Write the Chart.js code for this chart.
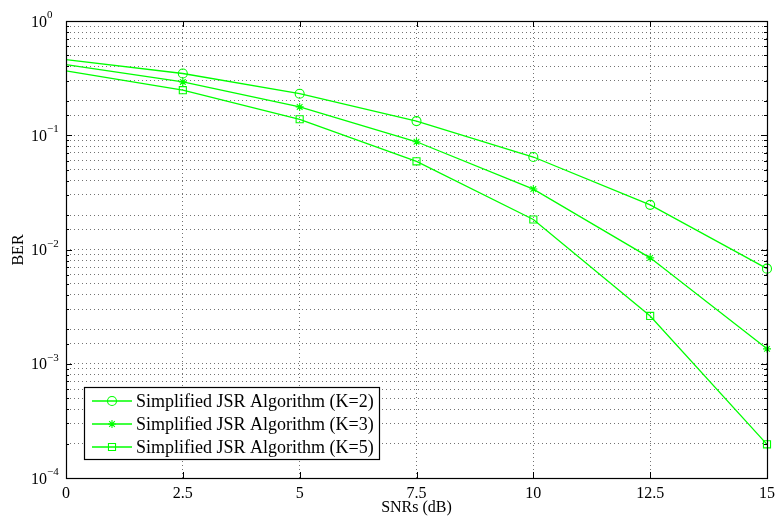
<!DOCTYPE html>
<html>
<head>
<meta charset="utf-8">
<script src="https://cdn.jsdelivr.net/npm/chart.js@4.4.0/dist/chart.umd.min.js"></script>
<style>
html,body{margin:0;padding:0;background:#fff;}
canvas{display:block;}
</style>
</head>
<body>
<canvas id="c" width="779" height="527"></canvas>
<script>
const snr = [0, 2.5, 5, 7.5, 10, 12.5, 15];
const berK2 = [0.46, 0.347, 0.231, 0.133, 0.0645, 0.0246, 0.0068];
const berK3 = [0.416, 0.293, 0.177, 0.0877, 0.0338, 0.00845, 0.00135];
const berK5 = [0.366, 0.248, 0.138, 0.0591, 0.0183, 0.00262, 0.000197];
const seriesNames = ['Simplified JSR Algorithm (K=2)', 'Simplified JSR Algorithm (K=3)', 'Simplified JSR Algorithm (K=5)'];
const xTickLabels = ['0', '2.5', '5', '7.5', '10', '12.5', '15'];
const yExponents = ['0', '\u22121', '\u22122', '\u22123', '\u22124'];
const xTitle = 'SNRs (dB)';
const yTitle = 'BER';

const GREEN = '#00ff00';
const SERIF = '"Liberation Serif", "Times New Roman", serif';
const styles = ['circle', 'star', 'rect'];
const radii = [4.5, 4, 5];

function mk(i, vals) {
  return {
    label: seriesNames[i],
    data: snr.map((x, j) => ({x: x, y: vals[j]})),
    borderColor: GREEN,
    backgroundColor: GREEN,
    borderWidth: 1.3,
    pointStyle: styles[i],
    pointRadius: snr.map((x, j) => j === 0 ? 0 : radii[i]),
    pointBorderColor: GREEN,
    pointBackgroundColor: 'rgba(0,0,0,0)',
    pointBorderWidth: 1.1,
    tension: 0,
    clip: false
  };
}

function drawMarker(ctx, style, x, y, r) {
  ctx.save();
  ctx.strokeStyle = GREEN;
  ctx.lineWidth = 1.1;
  ctx.beginPath();
  if (style === 'circle') {
    ctx.arc(x, y, r, 0, Math.PI * 2);
  } else if (style === 'rect') {
    const s = Math.SQRT1_2 * r;
    ctx.rect(x - s, y - s, 2 * s, 2 * s);
  } else {
    ctx.moveTo(x - r, y); ctx.lineTo(x + r, y);
    ctx.moveTo(x, y - r); ctx.lineTo(x, y + r);
    const d = r * Math.SQRT1_2;
    ctx.moveTo(x - d, y - d); ctx.lineTo(x + d, y + d);
    ctx.moveTo(x - d, y + d); ctx.lineTo(x + d, y - d);
  }
  ctx.stroke();
  ctx.restore();
}

const matlab = {
  id: 'matlab',
  afterDatasetsDraw(chart) {
    const ctx = chart.ctx;
    const a = chart.chartArea;
    const xs = chart.scales.x, ys = chart.scales.y;
    ctx.save();
    // inner ticks
    ctx.strokeStyle = '#000';
    ctx.lineWidth = 1;
    ctx.beginPath();
    xs.ticks.forEach(t => {
      const px = Math.round(xs.getPixelForValue(t.value)) + 0.5;
      ctx.moveTo(px, a.bottom); ctx.lineTo(px, a.bottom - 6);
      ctx.moveTo(px, a.top); ctx.lineTo(px, a.top + 6);
    });
    ys.ticks.forEach(t => {
      const v = t.value;
      const lg = Math.log10(v);
      const major = Math.abs(lg - Math.round(lg)) < 1e-9;
      const len = major ? 6 : 3;
      const py = Math.round(ys.getPixelForValue(v)) + 0.5;
      ctx.moveTo(a.left, py); ctx.lineTo(a.left + len, py);
      ctx.moveTo(a.right, py); ctx.lineTo(a.right - len, py);
    });
    ctx.stroke();
    // box
    ctx.lineWidth = 1.2;
    ctx.strokeRect(Math.round(a.left) + 0.5, Math.round(a.top) + 0.5, Math.round(a.right - a.left), Math.round(a.bottom - a.top));

    // x tick labels
    ctx.fillStyle = '#000';
    ctx.font = '16px ' + SERIF;
    ctx.textAlign = 'center';
    ctx.textBaseline = 'alphabetic';
    snr.forEach((v, i) => {
      ctx.fillText(xTickLabels[i], xs.getPixelForValue(v), 498);
    });
    // y tick labels
    yExponents.forEach((e, i) => {
      const py = ys.getPixelForValue(Math.pow(10, -i));
      ctx.textAlign = 'left';
      ctx.font = '16px ' + SERIF;
      ctx.fillText('10', 31, py + 5.5);
      const w = ctx.measureText('10').width;
      ctx.font = '11px ' + SERIF;
      ctx.fillText(e, 31 + w, py - 3);
    });
    // axis titles
    ctx.font = '16px ' + SERIF;
    ctx.textAlign = 'center';
    ctx.fillText(xTitle, (a.left + a.right) / 2, 512);
    ctx.save();
    ctx.translate(19, 250);
    ctx.rotate(-Math.PI / 2);
    ctx.textBaseline = 'middle';
    ctx.fillText(yTitle, 0, 0);
    ctx.restore();

    // legend
    ctx.font = '18px ' + SERIF;
    let maxW = 0;
    seriesNames.forEach(n => { maxW = Math.max(maxW, ctx.measureText(n).width); });
    const lx = 84.5, ly = 387.5, textX = 136;
    const lw = Math.round(textX + maxW + 6 - lx), lh = 72;
    ctx.fillStyle = '#fff';
    ctx.fillRect(lx, ly, lw, lh);
    ctx.strokeStyle = '#000';
    ctx.lineWidth = 1.2;
    ctx.strokeRect(lx, ly, lw, lh);
    const rows = [401, 424, 447];
    seriesNames.forEach((n, i) => {
      const y = rows[i];
      ctx.strokeStyle = GREEN;
      ctx.lineWidth = 1.3;
      ctx.beginPath();
      ctx.moveTo(92, y); ctx.lineTo(132, y);
      ctx.stroke();
      drawMarker(ctx, styles[i], 112, y, radii[i]);
      ctx.fillStyle = '#000';
      ctx.textAlign = 'left';
      ctx.textBaseline = 'alphabetic';
      ctx.fillText(n, textX, y + 6);
    });
    ctx.restore();
  }
};

new Chart(document.getElementById('c'), {
  type: 'line',
  data: { datasets: [mk(0, berK2), mk(1, berK3), mk(2, berK5)] },
  options: {
    responsive: false,
    animation: false,
    layout: { padding: { left: 66, right: 12, top: 21, bottom: 49 } },
    plugins: { legend: { display: false }, tooltip: { enabled: false } },
    scales: {
      x: {
        type: 'linear', min: 0, max: 15,
        ticks: { display: false, stepSize: 2.5 },
        grid: { color: 'rgba(0,0,0,0.55)', lineWidth: 1, drawTicks: false },
        border: { display: false, dash: [1, 3] },
        afterFit(s) { s.height = 0; }
      },
      y: {
        type: 'logarithmic', min: 1e-4, max: 1,
        ticks: { display: false },
        grid: { color: 'rgba(0,0,0,0.55)', lineWidth: 1, drawTicks: false },
        border: { display: false, dash: [1, 3] },
        afterFit(s) { s.width = 0; }
      }
    }
  },
  plugins: [matlab]
});
</script>
</body>
</html>
